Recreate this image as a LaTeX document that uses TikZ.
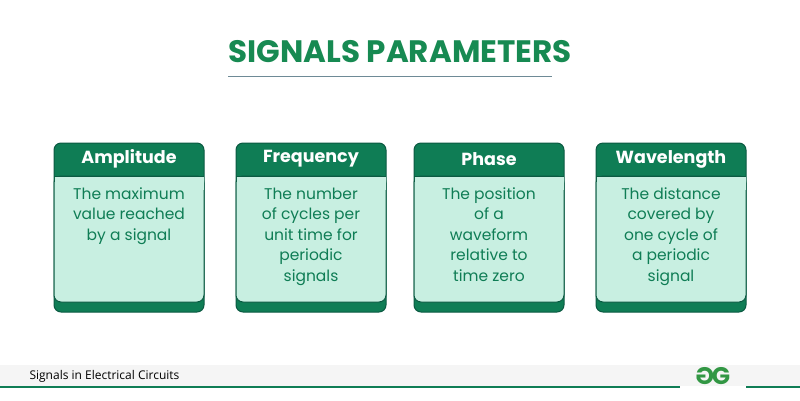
\documentclass[tikz,border=0pt]{standalone}
\usepackage{fontspec}
\setmainfont{Poppins}
\newfontfamily\footfont{Open Sans}
\usetikzlibrary{positioning}
\definecolor{gfgGreen}{HTML}{0F7D55}
\definecolor{gfgDark}{HTML}{0B5A42}
\definecolor{gfgLight}{HTML}{C8EFE1}
\definecolor{gfgTitle}{HTML}{178A52}
\definecolor{gfgLine}{HTML}{6E8A96}
\begin{document}
\begin{tikzpicture}[x=1pt,y=-1pt]
\tikzset{head/.style = {font=\fontsize{17.5}{20}\selectfont\bfseries, text=white},
	body/.style = {align=center, text=gfgGreen,
		font=\fontsize{15.5}{20.5}\selectfont, anchor=north}}
\useasboundingbox (0,0) rectangle (800,400);
\fill[white] (0,0) rectangle (800,400);
% title
\node[text=gfgTitle, font=\fontsize{31}{34}\selectfont\bfseries] (title) at (400,52) {SIGNALS PARAMETERS};
\draw[gfgLine, line width=1pt] (228,76) -- (552,76);
% cards
\foreach \x/\h/\b [count=\i] in {54/Amplitude/{The maximum\\value reached\\by a signal},
	236/Frequency/{The number\\of cycles per\\unit time for\\periodic\\signals},
	414/Phase/{The position\\of a\\waveform\\relative to\\time zero},
	596/Wavelength/{The distance\\covered by\\one cycle of\\a periodic\\signal}} {
	\fill[gfgGreen, draw=gfgDark, line width=1pt, rounded corners=7pt] (\x,143) rectangle (\x+150,312);
	\fill[gfgLight, draw=gfgDark, line width=1pt, rounded corners=7pt] (\x,176) rectangle (\x+150,302);
	\fill[gfgLight] (\x+0.5,176.5) rectangle (\x+149.5,190);
	\draw[gfgDark, line width=1pt] (\x,176) -- (\x+150,176);
	\node[head] (h\i) at (\x+75,159) {\h};
	\node[body] (b\i) at (\x+75,184) {\b};
}
% footer
\fill[black!4] (0,365) rectangle (800,386);
\draw[gfgGreen, line width=2pt] (0,387) -- (680,387);
\draw[gfgGreen, line width=2pt] (746,387) -- (800,387);
\node[anchor=west, font=\footfont\fontsize{12}{14}\selectfont] (foot) at (26,376) {Signals in Electrical Circuits};
\node[text=gfgGreen!80!lime, font=\fontsize{24}{26}\selectfont\bfseries, xscale=-1] (g1) at (705,376) {G};
\node[text=gfgGreen!80!lime, font=\fontsize{24}{26}\selectfont\bfseries] (g2) at (721,376) {G};
\end{tikzpicture}
\end{document}
